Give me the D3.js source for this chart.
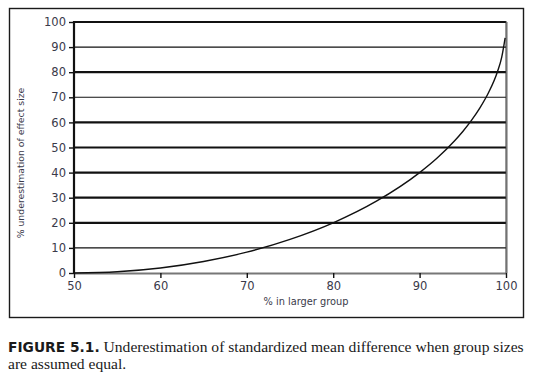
<!DOCTYPE html>
<html><head><meta charset="utf-8">
<script src="https://cdn.jsdelivr.net/npm/d3@7"></script>
<style>body{margin:0;background:#fff}svg{display:block}</style>
</head><body>
<svg id="c" width="538" height="382"></svg>
<script>
const xPct = [50, 55, 60, 65, 70, 75, 80, 85, 90, 92, 94, 95, 96, 97, 98, 99, 99.5, 99.9];
const underest = [0, 0.5, 2.0, 4.6, 8.3, 13.4, 20, 28.6, 40, 45.7, 52.5, 56.4, 60.8, 65.9, 72, 80.1, 85.9, 93.7];
const xTicks = [50, 60, 70, 80, 90, 100];
const yTicks = [0, 10, 20, 30, 40, 50, 60, 70, 80, 90, 100];
const thickGrid = [100, 80, 60, 50, 40, 30, 20];

const svg = d3.select("#c");
const L = 74, R = 506, T = 22, B = 273;
const x = d3.scaleLinear().domain([50, 100]).range([L, R]);
const y = d3.scaleLinear().domain([0, 100]).range([B, T]);

svg.append("rect").attr("x", 9.5).attr("y", 8.5).attr("width", 514).attr("height", 309)
  .attr("fill", "none").attr("stroke", "#1a1a1a").attr("stroke-width", 1.4);

svg.append("g").selectAll("line").data(yTicks.filter(d => d > 0)).join("line")
  .attr("x1", L).attr("x2", R).attr("y1", d => y(d)).attr("y2", d => y(d))
  .attr("stroke", "#111").attr("stroke-width", d => thickGrid.includes(d) ? 2.2 : 1.1);

svg.append("line").attr("x1", R + 1).attr("x2", R + 1).attr("y1", T).attr("y2", B)
  .attr("stroke", "#999").attr("stroke-width", 1.5);
svg.append("line").attr("x1", R).attr("x2", R).attr("y1", T - 1).attr("y2", B)
  .attr("stroke", "#333").attr("stroke-width", 1);

const xa = svg.append("g").attr("transform", `translate(0,${B})`)
  .call(d3.axisBottom(x).tickValues(xTicks).tickSize(5).tickPadding(4).tickSizeOuter(0));
xa.select(".domain").attr("stroke", "#777").attr("stroke-width", 2);
xa.selectAll(".tick line").attr("stroke", "#111").attr("stroke-width", 1.4);
xa.selectAll("text").attr("font-family", "DejaVu Sans, Verdana, sans-serif").attr("font-size", 11.5).attr("fill", "#3a3a4a");

const ya = svg.append("g").attr("transform", `translate(${L},0)`)
  .call(d3.axisLeft(y).tickValues(yTicks).tickSize(5).tickPadding(3).tickSizeOuter(0));
ya.select(".domain").attr("stroke", "#111").attr("stroke-width", 2.2).attr("d", `M0,${T - 1}V${B + 1}`);
ya.selectAll(".tick line").attr("stroke", "#111").attr("stroke-width", 1.4);
ya.selectAll("text").attr("font-family", "DejaVu Sans, Verdana, sans-serif").attr("font-size", 11.5).attr("fill", "#3a3a4a");

const line = d3.line().x((d, i) => x(xPct[i])).y(d => y(d)).curve(d3.curveMonotoneX);
svg.append("path").datum(underest).attr("d", line)
  .attr("fill", "none").attr("stroke", "#111").attr("stroke-width", 1.4);

svg.append("text").attr("x", 306).attr("y", 305).attr("text-anchor", "middle")
  .attr("font-family", "DejaVu Sans, Verdana, sans-serif").attr("font-size", 9.8).attr("fill", "#3a3a4a")
  .text("% in larger group");
svg.append("text").attr("transform", "translate(24,163) rotate(-90)").attr("text-anchor", "middle")
  .attr("font-family", "DejaVu Sans, Verdana, sans-serif").attr("font-size", 9.3).attr("fill", "#3a3a4a")
  .text("% underestimation  of effect size");

const cap = svg.append("text").attr("x", 8).attr("y", 352)
  .attr("font-family", "Liberation Serif, serif").attr("font-size", 15.6).attr("fill", "#1a1a1a");
cap.append("tspan").attr("font-family", "DejaVu Sans, sans-serif").attr("font-weight", "bold").attr("font-size", 13.8)
  .text("FIGURE 5.1.");
cap.append("tspan").text(" Underestimation of standardized mean difference when group sizes");
svg.append("text").attr("x", 8).attr("y", 369)
  .attr("font-family", "Liberation Serif, serif").attr("font-size", 15.6).attr("fill", "#1a1a1a")
  .text("are assumed equal.");
</script>
</body></html>
